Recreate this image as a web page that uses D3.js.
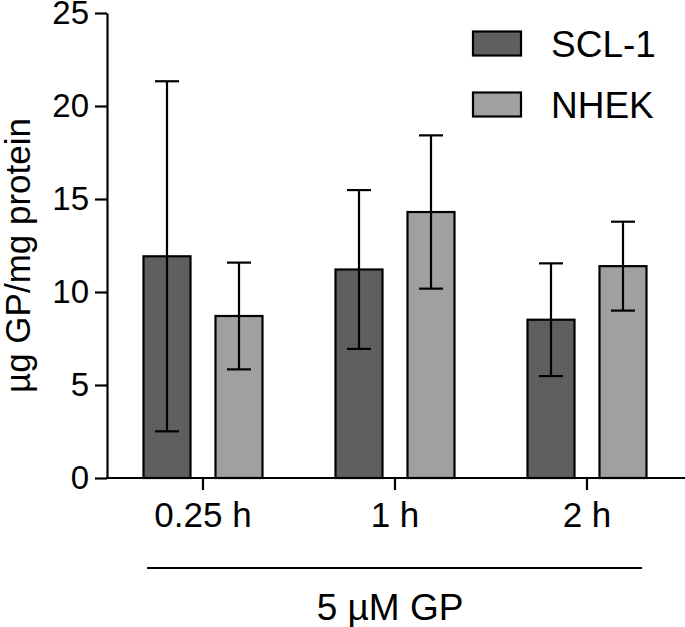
<!DOCTYPE html>
<html>
<head>
<meta charset="utf-8">
<script src="https://cdn.jsdelivr.net/npm/d3@7"></script>
<style>
  html, body { margin: 0; padding: 0; background: #fff; }
  svg { display: block; font-family: "Liberation Sans", Arial, sans-serif; }
</style>
</head>
<body>
<svg id="chart" width="685" height="627"></svg>
<script>
const categories = ["0.25 h", "1 h", "2 h"];
const seriesNames = ["SCL-1", "NHEK"];
const scl1Values = [11.92, 11.21, 8.51];
const scl1Errors = [9.41, 4.27, 3.03];
const nhekValues = [8.71, 14.3, 11.39];
const nhekErrors = [2.87, 4.12, 2.39];
const yTicks = [0, 5, 10, 15, 20, 25];
const yTitle = "µg GP/mg protein";
const groupLabel = "5 µM GP";

const colors = { "SCL-1": "#5f5f5f", "NHEK": "#a0a0a0" };

const rows = categories.map((c, i) => ({
  cat: c,
  bars: [
    { series: "SCL-1", value: scl1Values[i], err: scl1Errors[i] },
    { series: "NHEK", value: nhekValues[i], err: nhekErrors[i] }
  ]
}));

const svg = d3.select("#chart");
const mLeft = 107, mRight = 683, mTop = 13, mBottom = 478;

const x = d3.scaleBand().domain(categories).range([mLeft, mRight]).padding(0);
const inner = d3.scaleBand().domain(seriesNames)
  .range([x.bandwidth() / 2 - 59.5, x.bandwidth() / 2 + 59.5])
  .paddingInner(25 / 72).paddingOuter(0);
const y = d3.scaleLinear().domain([0, 25]).range([mBottom, mTop]);

// bars
const g = svg.append("g");
const groups = g.selectAll("g.grp").data(rows).join("g")
  .attr("class", "grp")
  .attr("transform", d => `translate(${x(d.cat)},0)`);

groups.selectAll("rect").data(d => d.bars).join("rect")
  .attr("x", d => inner(d.series))
  .attr("y", d => y(d.value))
  .attr("width", inner.bandwidth())
  .attr("height", d => y(0) - y(d.value))
  .attr("fill", d => colors[d.series])
  .attr("stroke", "#000")
  .attr("stroke-width", 2.2);

// error bars
const eb = groups.selectAll("g.err").data(d => d.bars).join("g")
  .attr("class", "err")
  .attr("transform", d => `translate(${inner(d.series) + inner.bandwidth() / 2},0)`);
eb.append("line")
  .attr("x1", 0).attr("x2", 0)
  .attr("y1", d => y(d.value - d.err)).attr("y2", d => y(d.value + d.err))
  .attr("stroke", "#000").attr("stroke-width", 2.2);
eb.append("line")
  .attr("x1", -12).attr("x2", 12)
  .attr("y1", d => y(d.value + d.err)).attr("y2", d => y(d.value + d.err))
  .attr("stroke", "#000").attr("stroke-width", 2.2);
eb.append("line")
  .attr("x1", -12).attr("x2", 12)
  .attr("y1", d => y(d.value - d.err)).attr("y2", d => y(d.value - d.err))
  .attr("stroke", "#000").attr("stroke-width", 2.2);

// y axis
const yAxis = svg.append("g")
  .attr("transform", `translate(${mLeft},0)`)
  .call(d3.axisLeft(y).tickValues(yTicks).tickSize(12).tickSizeOuter(0).tickPadding(6));
yAxis.selectAll("path, line").attr("stroke", "#000").attr("stroke-width", 2.2);
yAxis.selectAll("text").attr("font-size", 33).attr("fill", "#000")
  .attr("font-family", "Liberation Sans, Arial, sans-serif");

// x axis
const xAxis = svg.append("g")
  .attr("transform", `translate(0,${mBottom})`)
  .call(d3.axisBottom(x).tickSize(12).tickSizeOuter(0).tickPadding(0));
xAxis.select("path.domain").attr("d", `M${mLeft - 1},0H${mRight + 2}`);
xAxis.selectAll("path, line").attr("stroke", "#000").attr("stroke-width", 2.2);
xAxis.selectAll("text").attr("font-size", 35).attr("fill", "#000")
  .attr("dy", null).attr("y", 49)
  .attr("font-family", "Liberation Sans, Arial, sans-serif");

// y title
svg.append("text")
  .attr("transform", `translate(30,${(118 + 393) / 2}) rotate(-90)`)
  .attr("text-anchor", "middle")
  .attr("font-size", 35)
  .text(yTitle);

// group bracket
svg.append("line")
  .attr("x1", 147).attr("x2", 642).attr("y1", 568).attr("y2", 568)
  .attr("stroke", "#000").attr("stroke-width", 2.2);
svg.append("text")
  .attr("x", 390).attr("y", 620)
  .attr("text-anchor", "middle")
  .attr("font-size", 37)
  .text(groupLabel);

// legend
const legend = svg.append("g");
const legendY = d3.scalePoint().domain(seriesNames).range([43.5, 104.5]);
const li = legend.selectAll("g").data(seriesNames).join("g")
  .attr("transform", d => `translate(473,${legendY(d)})`);
li.append("rect")
  .attr("x", 0).attr("y", -12).attr("width", 48).attr("height", 24)
  .attr("fill", d => colors[d]).attr("stroke", "#000").attr("stroke-width", 2.2);
li.append("text")
  .attr("x", 78).attr("y", 0).attr("dy", "0.36em")
  .attr("font-size", 37)
  .text(d => d);
</script>
</body>
</html>
